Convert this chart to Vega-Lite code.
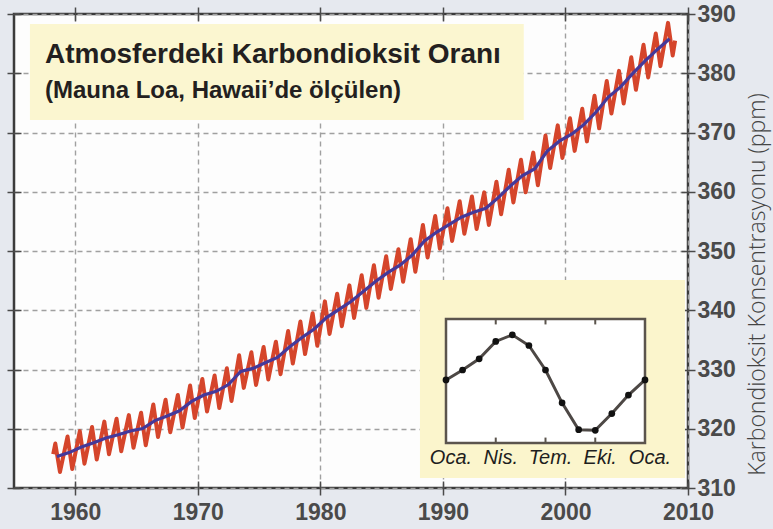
{
  "$schema": "https://vega.github.io/schema/vega-lite/v6.json",
  "width": 674,
  "height": 474,
  "autosize": {"type": "none"},
  "padding": {"left": 14, "top": 14, "right": 85, "bottom": 41},
  "background": "#e6e9ef",
  "config": {
    "view": {"stroke": "#3b3b3b", "strokeWidth": 2.5, "fill": "#fdfdfd"},
    "font": "Liberation Sans"
  },
  "datasets": {
    "monthly": [
      {"t": 1958.20, "co2": 315.7}, {"t": 1958.37, "co2": 317.5}, {"t": 1958.75, "co2": 312.7},
      {"t": 1959.37, "co2": 318.7}, {"t": 1959.75, "co2": 313.2},
      {"t": 1960.37, "co2": 319.6}, {"t": 1960.75, "co2": 314.1},
      {"t": 1961.37, "co2": 320.3}, {"t": 1961.75, "co2": 314.8},
      {"t": 1962.37, "co2": 321.2}, {"t": 1962.75, "co2": 315.7},
      {"t": 1963.37, "co2": 321.7}, {"t": 1963.75, "co2": 316.2},
      {"t": 1964.37, "co2": 322.3}, {"t": 1964.75, "co2": 316.8},
      {"t": 1965.37, "co2": 322.7}, {"t": 1965.75, "co2": 317.2},
      {"t": 1966.37, "co2": 324.1}, {"t": 1966.75, "co2": 318.6},
      {"t": 1967.37, "co2": 324.9}, {"t": 1967.75, "co2": 319.4},
      {"t": 1968.37, "co2": 325.7}, {"t": 1968.75, "co2": 320.2},
      {"t": 1969.37, "co2": 327.3}, {"t": 1969.75, "co2": 321.8},
      {"t": 1970.37, "co2": 328.4}, {"t": 1970.75, "co2": 322.9},
      {"t": 1971.37, "co2": 329.0}, {"t": 1971.75, "co2": 323.5},
      {"t": 1972.37, "co2": 330.2}, {"t": 1972.75, "co2": 324.7},
      {"t": 1973.37, "co2": 332.4}, {"t": 1973.75, "co2": 326.9},
      {"t": 1974.37, "co2": 332.9}, {"t": 1974.75, "co2": 327.4},
      {"t": 1975.37, "co2": 333.8}, {"t": 1975.75, "co2": 328.3},
      {"t": 1976.37, "co2": 334.7}, {"t": 1976.75, "co2": 329.2},
      {"t": 1977.37, "co2": 336.5}, {"t": 1977.75, "co2": 331.0},
      {"t": 1978.37, "co2": 338.1}, {"t": 1978.75, "co2": 332.6},
      {"t": 1979.37, "co2": 339.5}, {"t": 1979.75, "co2": 334.0},
      {"t": 1980.37, "co2": 341.5}, {"t": 1980.75, "co2": 336.0},
      {"t": 1981.37, "co2": 342.8}, {"t": 1981.75, "co2": 337.3},
      {"t": 1982.37, "co2": 344.2}, {"t": 1982.75, "co2": 338.7},
      {"t": 1983.37, "co2": 345.9}, {"t": 1983.75, "co2": 340.4},
      {"t": 1984.37, "co2": 347.6}, {"t": 1984.75, "co2": 342.1},
      {"t": 1985.37, "co2": 349.1}, {"t": 1985.75, "co2": 343.6},
      {"t": 1986.37, "co2": 350.3}, {"t": 1986.75, "co2": 344.8},
      {"t": 1987.37, "co2": 352.0}, {"t": 1987.75, "co2": 346.5},
      {"t": 1988.37, "co2": 354.4}, {"t": 1988.75, "co2": 348.9},
      {"t": 1989.37, "co2": 355.9}, {"t": 1989.75, "co2": 350.4},
      {"t": 1990.37, "co2": 357.2}, {"t": 1990.75, "co2": 351.7},
      {"t": 1991.37, "co2": 358.4}, {"t": 1991.75, "co2": 352.9},
      {"t": 1992.37, "co2": 359.2}, {"t": 1992.75, "co2": 353.7},
      {"t": 1993.37, "co2": 359.9}, {"t": 1993.75, "co2": 354.4},
      {"t": 1994.37, "co2": 361.7}, {"t": 1994.75, "co2": 356.2},
      {"t": 1995.37, "co2": 363.7}, {"t": 1995.75, "co2": 358.2},
      {"t": 1996.37, "co2": 365.4}, {"t": 1996.75, "co2": 359.9},
      {"t": 1997.37, "co2": 366.6}, {"t": 1997.75, "co2": 361.1},
      {"t": 1998.37, "co2": 369.5}, {"t": 1998.75, "co2": 364.0},
      {"t": 1999.37, "co2": 371.2}, {"t": 1999.75, "co2": 365.7},
      {"t": 2000.37, "co2": 372.4}, {"t": 2000.75, "co2": 366.9},
      {"t": 2001.37, "co2": 374.0}, {"t": 2001.75, "co2": 368.5},
      {"t": 2002.37, "co2": 376.2}, {"t": 2002.75, "co2": 370.7},
      {"t": 2003.37, "co2": 378.7}, {"t": 2003.75, "co2": 373.2},
      {"t": 2004.37, "co2": 380.4}, {"t": 2004.75, "co2": 374.9},
      {"t": 2005.37, "co2": 382.7}, {"t": 2005.75, "co2": 377.2},
      {"t": 2006.37, "co2": 384.8}, {"t": 2006.75, "co2": 379.3},
      {"t": 2007.37, "co2": 386.7}, {"t": 2007.75, "co2": 381.2},
      {"t": 2008.37, "co2": 388.5}, {"t": 2008.75, "co2": 383.0},
      {"t": 2008.95, "co2": 385.5}
    ],
    "trend": [
      {"t": 1958.5, "co2": 315.3}, {"t": 1959.5, "co2": 315.97}, {"t": 1960.5, "co2": 316.91},
      {"t": 1961.5, "co2": 317.64}, {"t": 1962.5, "co2": 318.45}, {"t": 1963.5, "co2": 318.99},
      {"t": 1964.5, "co2": 319.62}, {"t": 1965.5, "co2": 320.04}, {"t": 1966.5, "co2": 321.38},
      {"t": 1967.5, "co2": 322.16}, {"t": 1968.5, "co2": 323.04}, {"t": 1969.5, "co2": 324.62},
      {"t": 1970.5, "co2": 325.68}, {"t": 1971.5, "co2": 326.32}, {"t": 1972.5, "co2": 327.46},
      {"t": 1973.5, "co2": 329.68}, {"t": 1974.5, "co2": 330.19}, {"t": 1975.5, "co2": 331.13},
      {"t": 1976.5, "co2": 332.03}, {"t": 1977.5, "co2": 333.84}, {"t": 1978.5, "co2": 335.41},
      {"t": 1979.5, "co2": 336.84}, {"t": 1980.5, "co2": 338.76}, {"t": 1981.5, "co2": 340.12},
      {"t": 1982.5, "co2": 341.48}, {"t": 1983.5, "co2": 343.15}, {"t": 1984.5, "co2": 344.85},
      {"t": 1985.5, "co2": 346.35}, {"t": 1986.5, "co2": 347.61}, {"t": 1987.5, "co2": 349.31},
      {"t": 1988.5, "co2": 351.69}, {"t": 1989.5, "co2": 353.2}, {"t": 1990.5, "co2": 354.45},
      {"t": 1991.5, "co2": 355.7}, {"t": 1992.5, "co2": 356.54}, {"t": 1993.5, "co2": 357.21},
      {"t": 1994.5, "co2": 358.96}, {"t": 1995.5, "co2": 360.97}, {"t": 1996.5, "co2": 362.74},
      {"t": 1997.5, "co2": 363.88}, {"t": 1998.5, "co2": 366.84}, {"t": 1999.5, "co2": 368.54},
      {"t": 2000.5, "co2": 369.71}, {"t": 2001.5, "co2": 371.32}, {"t": 2002.5, "co2": 373.45},
      {"t": 2003.5, "co2": 375.98}, {"t": 2004.5, "co2": 377.7}, {"t": 2005.5, "co2": 379.98},
      {"t": 2006.5, "co2": 382.09}, {"t": 2007.5, "co2": 384.02}, {"t": 2008.5, "co2": 385.83}
    ],
    "season": [
      {"m": 0, "v": 0.07}, {"m": 1, "v": 0.71}, {"m": 2, "v": 1.43}, {"m": 3, "v": 2.55},
      {"m": 4, "v": 2.98}, {"m": 5, "v": 2.29}, {"m": 6, "v": 0.71}, {"m": 7, "v": -1.41},
      {"m": 8, "v": -3.14}, {"m": 9, "v": -3.18}, {"m": 10, "v": -2.1}, {"m": 11, "v": -0.91},
      {"m": 12, "v": 0.07}
    ],
    "monthLabels": [
      {"m": 0, "lab": "Oca."}, {"m": 3, "lab": "Nis."}, {"m": 6, "lab": "Tem."},
      {"m": 9, "lab": "Eki."}, {"m": 12, "lab": "Oca."}
    ],
    "insetTicks": [{"m": 3}, {"m": 6}, {"m": 9}]
  },
  "resolve": {"scale": {"x": "independent", "y": "independent"}},
  "layer": [
    {
      "layer": [
        {
          "data": {"name": "monthly"},
          "mark": {"type": "line", "color": "#d5452b", "strokeWidth": 4, "strokeJoin": "round"},
          "encoding": {
            "x": {
              "field": "t", "type": "quantitative",
              "scale": {"domain": [1955, 2010], "nice": false, "zero": false},
              "axis": {
                "orient": "bottom", "values": [1960, 1970, 1980, 1990, 2000, 2010], "format": "d",
                "title": null, "grid": false, "domain": false, "offset": -7, "tickSize": 14,
                "tickColor": "#4a4a4a", "tickWidth": 1.5, "labelFont": "Liberation Sans",
                "labelFontWeight": "bold", "labelFontSize": 23, "labelColor": "#4a4a4a",
                "labelPadding": 6, "labelFlush": false, "labelOverlap": false
              }
            },
            "y": {
              "field": "co2", "type": "quantitative",
              "scale": {"domain": [310, 390], "nice": false, "zero": false},
              "axis": {
                "orient": "right", "values": [310, 320, 330, 340, 350, 360, 370, 380, 390],
                "title": "Karbondioksit Konsentrasyonu (ppm)", "grid": false, "domain": false,
                "offset": -7, "tickSize": 14, "tickColor": "#4a4a4a", "tickWidth": 1.5,
                "labelFont": "Liberation Sans", "labelFontWeight": "bold", "labelFontSize": 23,
                "labelColor": "#4a4a4a", "labelPadding": 2, "labelFlush": false, "labelOverlap": false,
                "titleFont": "Open Sans", "titleFontWeight": 300, "titleFontSize": 23,
                "titleColor": "#444444", "titleAngle": 270, "titleX": 76, "titleY": 270,
                "titleAlign": "center", "titleBaseline": "middle"
              }
            }
          }
        },
        {
          "data": {"name": "trend"},
          "mark": {"type": "line", "color": "#45399a", "strokeWidth": 3.2},
          "encoding": {
            "x": {
              "field": "t", "type": "quantitative",
              "scale": {"domain": [1955, 2010], "nice": false, "zero": false},
              "axis": {
                "orient": "top", "values": [1960, 1970, 1980, 1990, 2000, 2010], "labels": false,
                "title": null, "grid": true, "gridDash": [5, 4], "gridColor": "#a0a0a0", "gridWidth": 1.4,
                "domain": false, "offset": -7, "tickSize": 14, "tickColor": "#4a4a4a", "tickWidth": 1.5
              }
            },
            "y": {
              "field": "co2", "type": "quantitative",
              "scale": {"domain": [310, 390], "nice": false, "zero": false},
              "axis": {
                "orient": "left", "values": [310, 320, 330, 340, 350, 360, 370, 380, 390], "labels": false,
                "title": null, "grid": true, "gridDash": [5, 4], "gridColor": "#a0a0a0", "gridWidth": 1.4,
                "domain": false, "offset": -7, "tickSize": 14, "tickColor": "#4a4a4a", "tickWidth": 1.5
              }
            }
          }
        },
        {
          "data": {"values": [{}]},
          "mark": {"type": "rect", "color": "#fbf6d0"},
          "encoding": {
            "x": {"datum": 1956.3, "type": "quantitative", "axis": null},
            "x2": {"datum": 1996.6},
            "y": {"datum": 388.3, "type": "quantitative", "axis": null},
            "y2": {"datum": 372.1}
          }
        },
        {
          "data": {"values": [{}]},
          "mark": {
            "type": "text", "text": "Atmosferdeki Karbondioksit Oranı", "align": "left",
            "baseline": "alphabetic", "font": "Liberation Sans", "fontWeight": "bold",
            "fontSize": 28, "color": "#231f20"
          },
          "encoding": {
            "x": {"datum": 1957.53, "type": "quantitative", "axis": null},
            "y": {"datum": 381.73, "type": "quantitative", "axis": null}
          }
        },
        {
          "data": {"values": [{}]},
          "mark": {
            "type": "text", "text": "(Mauna Loa, Hawaii’de ölçülen)", "align": "left",
            "baseline": "alphabetic", "font": "Liberation Sans", "fontWeight": "bold",
            "fontSize": 24, "color": "#231f20"
          },
          "encoding": {
            "x": {"datum": 1957.53, "type": "quantitative", "axis": null},
            "y": {"datum": 375.82, "type": "quantitative", "axis": null}
          }
        }
      ]
    },
    {
      "layer": [
        {
          "data": {"values": [{}]},
          "mark": {"type": "rect", "color": "#fbf5cc"},
          "encoding": {
            "x": {"datum": -1.57, "type": "quantitative", "scale": {"domain": [-26.05, 14.593], "nice": false, "zero": false}, "axis": null},
            "x2": {"datum": 14.41},
            "y": {"datum": 6.52, "type": "quantitative", "scale": {"domain": [-6.903, 23.677], "nice": false, "zero": false}, "axis": null},
            "y2": {"datum": -6.26}
          }
        },
        {
          "data": {"values": [{}]},
          "mark": {"type": "rect", "fill": "#ffffff", "stroke": "#5b544d", "strokeWidth": 2.5},
          "encoding": {
            "x": {"datum": 0, "type": "quantitative", "axis": null},
            "x2": {"datum": 12},
            "y": {"datum": -4, "type": "quantitative", "axis": null},
            "y2": {"datum": 4}
          }
        },
        {
          "data": {"name": "insetTicks"},
          "mark": {"type": "rule", "color": "#5b544d", "strokeWidth": 2},
          "encoding": {
            "x": {"field": "m", "type": "quantitative", "axis": null},
            "y": {"datum": 4, "type": "quantitative", "axis": null},
            "y2": {"datum": 3.65}
          }
        },
        {
          "data": {"name": "insetTicks"},
          "mark": {"type": "rule", "color": "#5b544d", "strokeWidth": 2},
          "encoding": {
            "x": {"field": "m", "type": "quantitative", "axis": null},
            "y": {"datum": -4, "type": "quantitative", "axis": null},
            "y2": {"datum": -3.65}
          }
        },
        {
          "data": {"name": "season"},
          "mark": {"type": "line", "color": "#4d4845", "strokeWidth": 3},
          "encoding": {
            "x": {"field": "m", "type": "quantitative", "axis": null},
            "y": {"field": "v", "type": "quantitative", "axis": null}
          }
        },
        {
          "data": {"name": "season"},
          "mark": {"type": "circle", "color": "#111111", "size": 45, "opacity": 1},
          "encoding": {
            "x": {"field": "m", "type": "quantitative", "axis": null},
            "y": {"field": "v", "type": "quantitative", "axis": null}
          }
        },
        {
          "data": {"name": "monthLabels"},
          "mark": {
            "type": "text", "align": "center", "baseline": "alphabetic", "dx": 5,
            "font": "Liberation Sans", "fontStyle": "italic", "fontSize": 20, "color": "#1e1e1e"
          },
          "encoding": {
            "x": {"field": "m", "type": "quantitative", "axis": null},
            "y": {"datum": -5.36, "type": "quantitative", "axis": null},
            "text": {"field": "lab"}
          }
        }
      ]
    }
  ]
}
